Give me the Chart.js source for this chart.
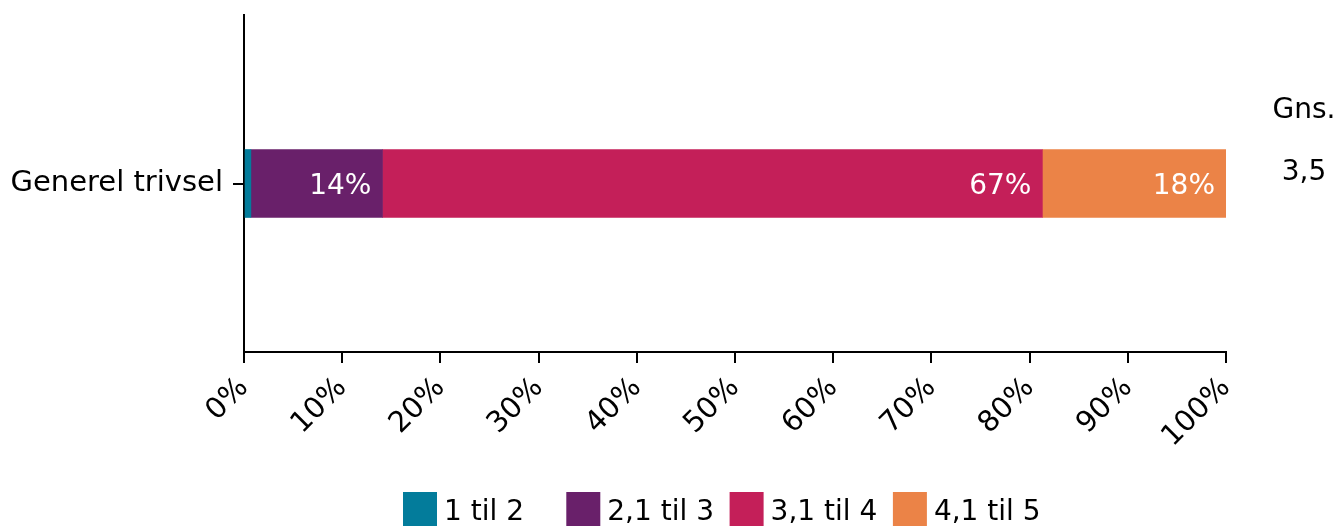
<!DOCTYPE html>
<html>
<head>
<meta charset="utf-8">
<script src="https://cdn.jsdelivr.net/npm/chart.js@4.4.1/dist/chart.umd.min.js"></script>
<style>
    html, body { margin: 0; padding: 0; background: #fff; overflow: hidden; }
    #wrap { width: 1337px; height: 526px; position: relative; }
</style>
</head>
<body>
<div id="wrap"><canvas id="trivsel"></canvas></div>
<script>
"use strict";
// data
var categories = ['Generel trivsel'];
var seriesNames = ['1 til 2', '2,1 til 3', '3,1 til 4', '4,1 til 5'];
var seriesColors = ['#037C9B', '#69206A', '#C41F59', '#EB8347'];
var s1 = [0.7];
var s2 = [13.4];
var s3 = [67.2];
var s4 = [18.7];
var segmentLabels = [[''], ['14%'], ['67%'], ['18%']];
var averages = [3.5];
var xTicks = [0, 10, 20, 30, 40, 50, 60, 70, 80, 90, 100];

var FONT = '"DejaVu Sans", Verdana, sans-serif';

var barLabels = {
    id: 'barLabels',
    afterDatasetsDraw: function (chart) {
        var ctx = chart.ctx;
        ctx.save();
        ctx.font = '28px ' + FONT;
        ctx.fillStyle = '#fff';
        ctx.textAlign = 'right';
        ctx.textBaseline = 'middle';
        chart.data.datasets.forEach(function (ds, di) {
            chart.getDatasetMeta(di).data.forEach(function (el, i) {
                var t = segmentLabels[di][i];
                if (t) ctx.fillText(t, el.x - 11, el.y + 3);
            });
        });
        ctx.restore();
    }
};

var avgColumn = {
    id: 'avgColumn',
    afterDraw: function (chart) {
        var ctx = chart.ctx, y = chart.scales.y;
        var cx = chart.chartArea.right + 78;
        ctx.save();
        ctx.font = '28px ' + FONT;
        ctx.fillStyle = '#000';
        ctx.textAlign = 'center';
        ctx.textBaseline = 'middle';
        categories.forEach(function (c, i) {
            var py = y.getPixelForValue(i);
            ctx.fillText('Gns.', cx, py - 73);
            ctx.fillText(String(averages[i]).replace('.', ','), cx, py - 11);
        });
        ctx.restore();
    }
};

var boxLegend = {
    id: 'boxLegend',
    afterDraw: function (chart) {
        var ctx = chart.ctx;
        ctx.save();
        ctx.font = '28px ' + FONT;
        ctx.textAlign = 'left';
        ctx.textBaseline = 'middle';
        chart.data.datasets.forEach(function (ds, i) {
            var x = 403 + i * 163.3;
            ctx.fillStyle = ds.backgroundColor;
            ctx.fillRect(x, 492, 34, 40);
            ctx.fillStyle = '#000';
            ctx.fillText(ds.label, x + 41, 513);
        });
        ctx.restore();
    }
};

var seriesData = [s1, s2, s3, s4];

new Chart(document.getElementById('trivsel'), {
    type: 'bar',
    data: {
        labels: categories,
        datasets: seriesNames.map(function (n, i) {
            return { label: n, data: seriesData[i], backgroundColor: seriesColors[i], borderWidth: 0, barThickness: 68 };
        })
    },
    options: {
        indexAxis: 'y',
        responsive: true,
        maintainAspectRatio: false,
        animation: false,
        layout: { padding: { top: 15, right: 111, left: 0, bottom: 0 } },
        plugins: { legend: { display: false }, tooltip: { enabled: false } },
        scales: {
            x: {
                stacked: true,
                min: 0, max: 100,
                afterBuildTicks: function (s) { s.ticks = xTicks.map(function (v) { return { value: v }; }); },
                afterFit: function (s) { s.height = 174; },
                border: { color: '#000', width: 2 },
                grid: { drawOnChartArea: false, drawTicks: true, tickLength: 11, color: '#000', lineWidth: 2 },
                ticks: {
                    color: '#000', font: { family: FONT, size: 29 },
                    minRotation: 45, maxRotation: 45, padding: 8,
                    callback: function (v) { return v + '%'; }
                }
            },
            y: {
                stacked: true,
                afterFit: function (s) { s.width = 244; s.paddingTop = 0; s.paddingBottom = 0; },
                border: { color: '#000', width: 2 },
                grid: { drawOnChartArea: false, drawTicks: true, tickLength: 11, color: '#000', lineWidth: 2, offset: false },
                ticks: { color: '#000', font: { family: FONT, size: 29 }, padding: 10 }
            }
        }
    },
    plugins: [barLabels, avgColumn, boxLegend]
});
</script>
</body>
</html>
